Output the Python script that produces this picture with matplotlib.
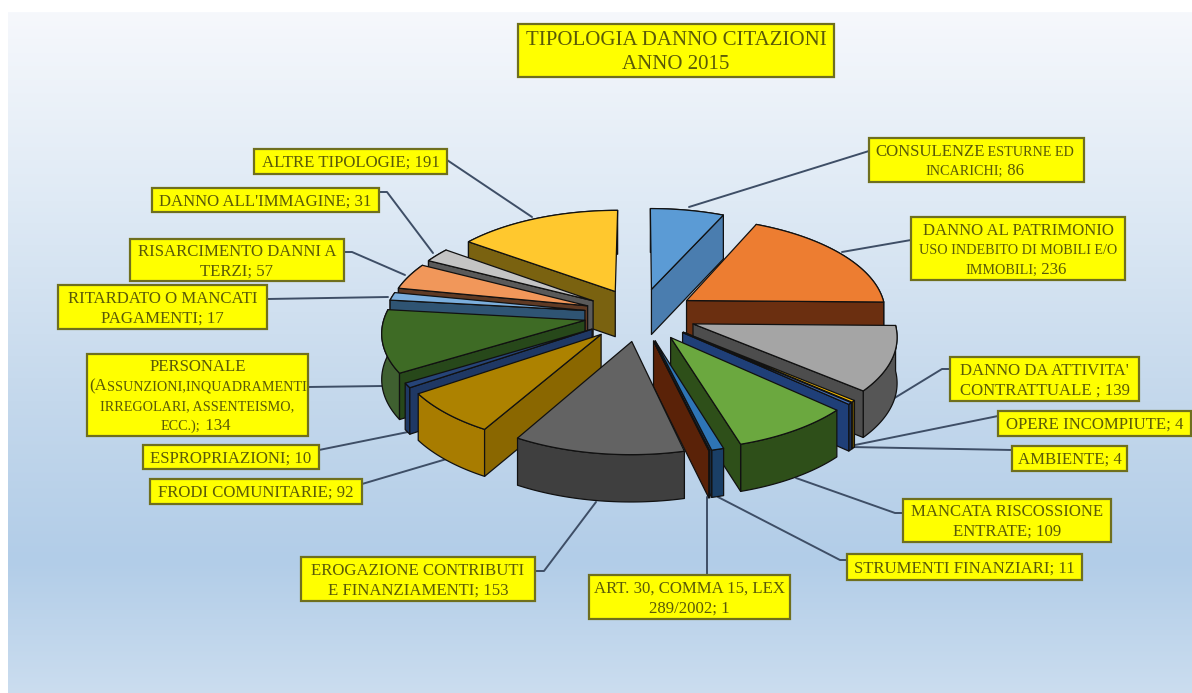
import numpy as np
import matplotlib
matplotlib.use("Agg")
import matplotlib.pyplot as plt
from matplotlib.patches import Polygon, Rectangle

# Damage types and citation counts, clockwise from twelve o'clock
categories = ["Consulenze", "Patrimonio", "Attivita contrattuale", "Opere incompiute",
              "Ambiente", "Mancata riscossione", "Strumenti finanziari", "Art. 30",
              "Erogazione contributi", "Frodi comunitarie", "Espropriazioni", "Personale",
              "Ritardato pagamento", "Risarcimento", "Immagine", "Altre tipologie"]
values = [86, 236, 139, 4, 4, 109, 11, 1, 153, 92, 10, 134, 17, 57, 31, 191]

# '|' separates lines, '~' toggles the small-capitals size
label_templates = [
    "CONSULENZE~ ESTURNE ED~|~INCARICHI;~ {v}",
    "DANNO AL PATRIMONIO|~USO INDEBITO DI MOBILI E/O~|~IMMOBILI;~ {v}",
    "DANNO DA ATTIVITA'|CONTRATTUALE ; {v}",
    "OPERE INCOMPIUTE; {v}",
    "AMBIENTE; {v}",
    "MANCATA RISCOSSIONE|ENTRATE; {v}",
    "STRUMENTI FINANZIARI; {v}",
    "ART. 30, COMMA 15, LEX|289/2002; {v}",
    "EROGAZIONE CONTRIBUTI|E FINANZIAMENTI; {v}",
    "FRODI COMUNITARIE; {v}",
    "ESPROPRIAZIONI; {v}",
    "PERSONALE|(A~SSUNZIONI,INQUADRAMENTI~|~IRREGOLARI, ASSENTEISMO,~|~ECC.);~ {v}",
    "RITARDATO O MANCATI|PAGAMENTI; {v}",
    "RISARCIMENTO DANNI A|TERZI; {v}",
    "DANNO ALL'IMMAGINE; {v}",
    "ALTRE TIPOLOGIE; {v}",
]
title_lines = ["TIPOLOGIA DANNO CITAZIONI", "ANNO 2015"]

top_colors = ["#5B9BD5", "#ED7D31", "#A5A5A5", "#FFC000", "#4472C4", "#6BA83F", "#2E75B6", "#9E480E",
              "#636363", "#AD8200", "#264478", "#3E6B25", "#7CAFDD", "#F1975A", "#C4C4C4", "#FFC82E"]
wall_colors = ["#4A7DAF", "#6B2F10", "#565656", "#6B5200", "#1F3F78", "#2E4F19", "#1A3F66", "#5A2208",
               "#3F3F3F", "#A87C00", "#1F3864", "#3F6030", "#2F5473", "#5F3A24", "#5A5A5A", "#7A6210"]
face_colors = ["#4A7DAF", "#6B2F10", "#4D4D4D", "#6B5200", "#1F3F78", "#2E4F19", "#1A3F66", "#5A2208",
               "#3F3F3F", "#8A6700", "#1F3864", "#27481A", "#2F5473", "#5F3A24", "#5A5A5A", "#7A6210"]

# Label boxes as (left, top, right, bottom) in pixels
boxes = [(869, 138, 1084, 182), (911, 217, 1125, 280), (950, 357, 1139, 401), (998, 411, 1191, 436),
         (1012, 446, 1127, 471), (903, 499, 1111, 542), (847, 554, 1082, 580), (589, 575, 790, 619),
         (301, 557, 535, 601), (150, 479, 362, 504), (143, 445, 319, 469), (87, 354, 308, 436),
         (58, 285, 267, 329), (130, 239, 344, 281), (152, 188, 379, 212), (254, 149, 447, 174)]
title_box = (518, 24, 834, 77)

# Leader lines from each box to its slice
leaders = [[(869, 151), (689, 207)], [(911, 240), (842, 252)], [(950, 369), (942, 369), (888, 402)],
           [(998, 416), (850, 446)], [(1012, 450), (850, 447)], [(903, 513), (895, 513), (796, 478)],
           [(847, 560), (840, 560), (718, 497)], [(707, 575), (707, 497)],
           [(535, 571), (544, 571), (596, 502)], [(362, 484), (450, 458)], [(319, 450), (408, 432)],
           [(308, 387), (383, 386)], [(267, 299), (388, 297)], [(344, 252), (352, 252), (405, 275)],
           [(379, 192), (387, 192), (433, 253)], [(447, 160), (532, 217)]]

# Projection of the tilted pie onto the page
CX, CY = 640.0, 314.5
SCALE_X, SCALE_Y = 200.0, 94.6
PERSPECTIVE = 0.108
DEPTH = 45.5
EXPLODE = 0.28

BIG, SMALL, TITLE = 12.1, 10.2, 15.0
TEXT_COLOR = "#5A5A08"
EDGE_COLOR = "#6F6F1E"
LEADER_COLOR = "#3E4E66"

fig = plt.figure(figsize=(11.92, 6.93), dpi=100, facecolor="white")
ax = fig.add_axes([0, 0, 1, 1])
ax.set_xlim(0, 1192)
ax.set_ylim(693, 0)
ax.axis("off")

# Vertical background wash, white at the very top and left margins
rows = np.arange(12, 693)
stops = [12, 200, 400, 560, 693]
channels = [[0xF6, 0xDF, 0xC4, 0xB2, 0xCB], [0xF8, 0xEA, 0xD8, 0xCD, 0xDD], [0xFC, 0xF5, 0xEC, 0xE8, 0xEF]]
wash = np.stack([np.interp(rows, stops, c) for c in channels], axis=1)[:, None, :] / 255.0
ax.imshow(wash, extent=(8, 1192, 693, 12), aspect="auto", zorder=0)
ax.set_xlim(0, 1192)
ax.set_ylim(693, 0)


def project(u, v, drop=0.0):
    w = 1.0 + PERSPECTIVE * v
    x = CX + SCALE_X * u / w
    y = CY - SCALE_Y * v / w + drop * DEPTH / (1.0 + 0.03 * v)
    return x, y


def slice_points(t, offset, drop=0.0, radius=1.0):
    u = offset[0] + radius * np.sin(t)
    v = offset[1] + radius * np.cos(t)
    return np.column_stack(project(u, v, drop))


def add_poly(points, color, z):
    ax.add_patch(Polygon(points, closed=True, facecolor=color, edgecolor="#111111",
                         linewidth=0.9, joinstyle="round", zorder=z))


# Leader lines sit under the pie
for path in leaders:
    xs, ys = zip(*path)
    ax.plot(xs, ys, color=LEADER_COLOR, lw=1.4, zorder=1, solid_capstyle="round")

# Slice angles come straight from the counts
edges = np.radians(np.concatenate([[0], np.cumsum(values)]) * 360.0 / np.sum(values))
mids = (edges[:-1] + edges[1:]) / 2.0

# Painter's order: slices farthest from the viewer go first
order = np.argsort(-np.abs(np.degrees(mids) - 180.0))
z = 2.0
for i in order:
    a, b = edges[i], edges[i + 1]
    offset = (EXPLODE * np.sin(mids[i]), EXPLODE * np.cos(mids[i]))
    arc = np.linspace(a, b, max(4, int(np.degrees(b - a)) + 2))
    tip_top = np.array(project(offset[0], offset[1])).reshape(1, 2)
    tip_low = np.array(project(offset[0], offset[1], 1.0)).reshape(1, 2)
    rim_top = slice_points(arc, offset)
    rim_low = slice_points(arc, offset, 1.0)

    # Outer rim first, so the cut faces and top surface cover its hidden part
    add_poly(np.vstack([rim_top, rim_low[::-1]]), wall_colors[i], z)
    z += 0.01

    # Radial cut faces that turn toward the viewer
    if np.sin(a) < 0:
        end_top = slice_points(np.array([a]), offset)
        end_low = slice_points(np.array([a]), offset, 1.0)
        add_poly(np.vstack([tip_top, end_top, end_low, tip_low]), face_colors[i], z)
        z += 0.01
    if np.sin(b) > 0:
        end_top = slice_points(np.array([b]), offset)
        end_low = slice_points(np.array([b]), offset, 1.0)
        add_poly(np.vstack([tip_top, end_top, end_low, tip_low]), face_colors[i], z)
        z += 0.01

    add_poly(np.vstack([tip_top, rim_top]), top_colors[i], z)
    z += 0.01

renderer = fig.canvas.get_renderer()
SERIF = "Liberation Serif"


def run_width(text, size):
    # Outer spaces count towards the advance, so measure them through a stand-in glyph
    stripped = text.strip(" ")
    padded = "n" * (len(text) - len(text.lstrip(" "))) + stripped + "n" * (len(text) - len(text.rstrip(" ")))
    probe = ax.text(0, 0, padded, fontsize=size, family=SERIF)
    width = probe.get_window_extent(renderer).width
    probe.remove()
    return width


def draw_runs(line, y, xc, base, z):
    # A line is a sequence of big and small runs, centred together on xc
    parts = line.split("~")
    runs = [(p, base if n % 2 == 0 else SMALL) for n, p in enumerate(parts) if p]
    widths = [run_width(text, size) for text, size in runs]
    x = xc - sum(widths) / 2.0
    for (text, size), w in zip(runs, widths):
        ax.text(x, y, text, fontsize=size, family=SERIF, color=TEXT_COLOR,
                ha="left", va="baseline", zorder=z)
        x += w


def draw_box(box, lines, base, spacing):
    l, t, r, b = box
    ax.add_patch(Rectangle((l, t), r - l, b - t, facecolor="#FFFF00", edgecolor=EDGE_COLOR,
                           linewidth=1.6, zorder=50))
    xc = (l + r) / 2.0
    yc = (t + b) / 2.0
    cap = base * 100 / 72 * 0.33
    for n, line in enumerate(lines):
        y = yc + (n - (len(lines) - 1) / 2.0) * spacing + cap
        draw_runs(line, y, xc, base, 51)


for tpl, val, box in zip(label_templates, values, boxes):
    draw_box(box, tpl.format(v=val).split("|"), BIG, 19.5)
draw_box(title_box, title_lines, TITLE, 24)

fig.savefig("out.png", dpi=100, facecolor="white")
